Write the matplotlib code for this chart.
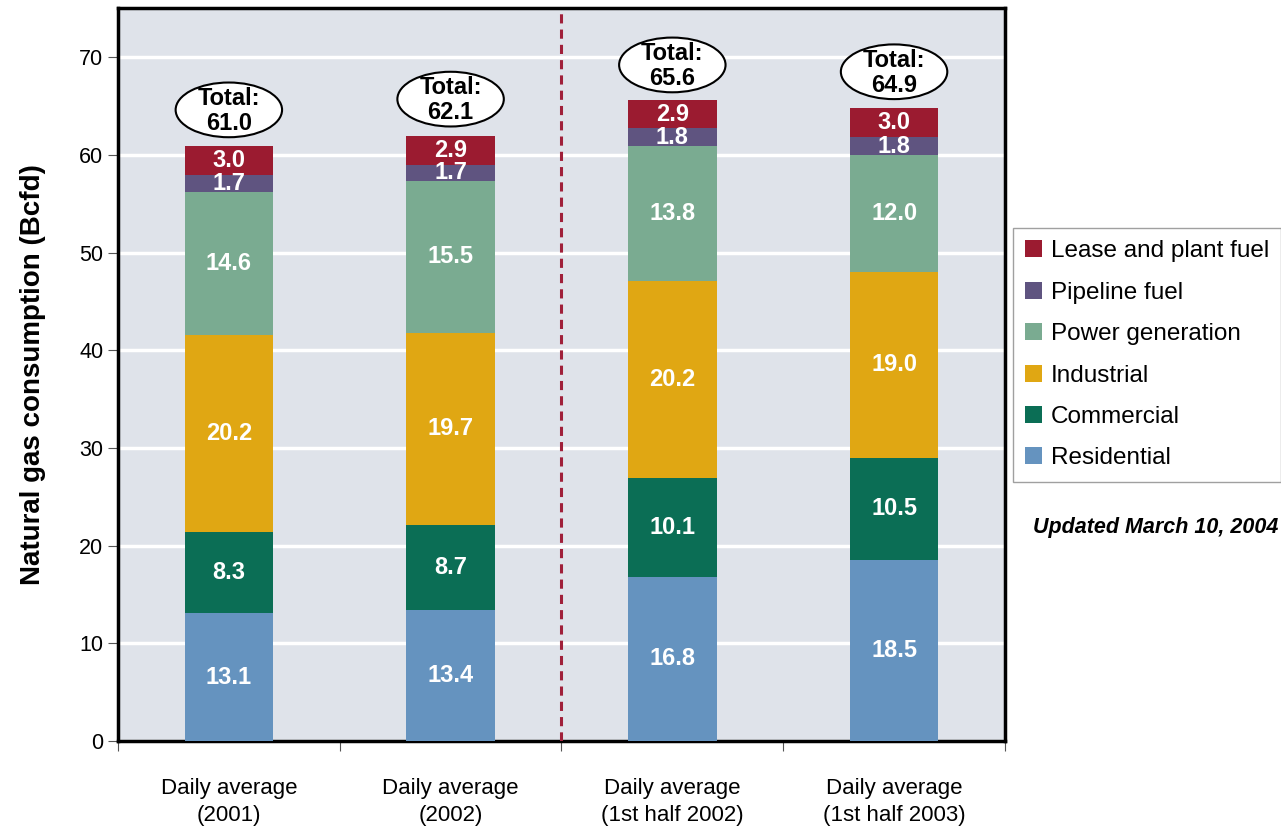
import numpy as np
import matplotlib.pyplot as plt
from matplotlib.patches import Ellipse

categories = ['Daily average\n(2001)', 'Daily average\n(2002)',
              'Daily average\n(1st half 2002)', 'Daily average\n(1st half 2003)']
series = ['Residential', 'Commercial', 'Industrial', 'Power generation',
          'Pipeline fuel', 'Lease and plant fuel']
residential = [13.1, 13.4, 16.8, 18.5]
commercial = [8.3, 8.7, 10.1, 10.5]
industrial = [20.2, 19.7, 20.2, 19.0]
power = [14.6, 15.5, 13.8, 12.0]
pipeline = [1.7, 1.7, 1.8, 1.8]
lease = [3.0, 2.9, 2.9, 3.0]
totals = [61.0, 62.1, 65.6, 64.9]

colors = ['#6593bf', '#0b6e55', '#e0a713', '#7aab91', '#5f5480', '#9b1b30']
values = [residential, commercial, industrial, power, pipeline, lease]

plt.rcParams['font.family'] = ['Liberation Sans', 'DejaVu Sans']

fig = plt.figure(figsize=(12.81, 8.27), dpi=100)
ax = fig.add_axes([0.0921, 0.104, 0.6924, 0.886])
ax.set_facecolor('#dfe3ea')

x = np.arange(len(categories))
bottom = np.zeros(len(categories))
handles = []
for name, vals, c in zip(series, values, colors):
    h = ax.bar(x, vals, 0.4, bottom=bottom, color=c, label=name, zorder=3)
    handles.append(h)
    for xi, b, v in zip(x, bottom, vals):
        ax.text(xi, b + v / 2, '%.1f' % v, ha='center', va='center', color='white',
                fontsize=17, fontweight='bold', zorder=4)
    bottom += np.array(vals)

for xi, t in zip(x, totals):
    ax.add_patch(Ellipse((xi, t + 3.6), 0.48, 5.6, facecolor='white', edgecolor='black',
                         lw=1.5, zorder=5))
    ax.text(xi, t + 3.5, 'Total:\n%.1f' % t, ha='center', va='center', fontsize=17,
            fontweight='bold', linespacing=1.1, zorder=6)

ax.axvline(1.5, color='#a0203a', ls=(0, (3, 2)), lw=2.2, zorder=4)

ax.set_xlim(-0.5, 3.5)
ax.set_ylim(0, 75)
ax.set_yticks(range(0, 71, 10))
ax.yaxis.grid(True, color='white', lw=2.5, zorder=1)
ax.set_axisbelow(True)
ax.set_xticks(np.arange(-0.5, 3.6, 1))
ax.set_xticklabels([])
ax.set_xticks(x, minor=True)
ax.set_xticklabels(categories, minor=True, fontsize=16, linespacing=1.35)
ax.tick_params(axis='x', which='minor', length=0, pad=27)
ax.tick_params(axis='x', which='major', length=7, direction='out', color='#555555')
ax.tick_params(axis='y', labelsize=15.5, length=7, color='#555555')
for s in ax.spines.values():
    s.set_linewidth(2.5)
ax.set_ylabel('Natural gas consumption (Bcfd)', fontsize=20, fontweight='bold', labelpad=24)

leg = fig.legend(handles[::-1], series[::-1], loc='upper left',
                 bbox_to_anchor=(1013 / 1281, 1 - 228 / 827), fontsize=17.5,
                 frameon=True, fancybox=False, edgecolor='#888888', handlelength=0.7,
                 handleheight=0.7, handletextpad=0.35, labelspacing=0.8, borderpad=0.5,
                 borderaxespad=0)
leg.get_frame().set_linewidth(1)

fig.text(1281 / 1281 - 0.002, 1 - 527 / 827, 'Updated March 10, 2004', ha='right', va='center',
         fontsize=15.5, fontweight='bold', style='italic')

fig.savefig('out.png', dpi=100)
